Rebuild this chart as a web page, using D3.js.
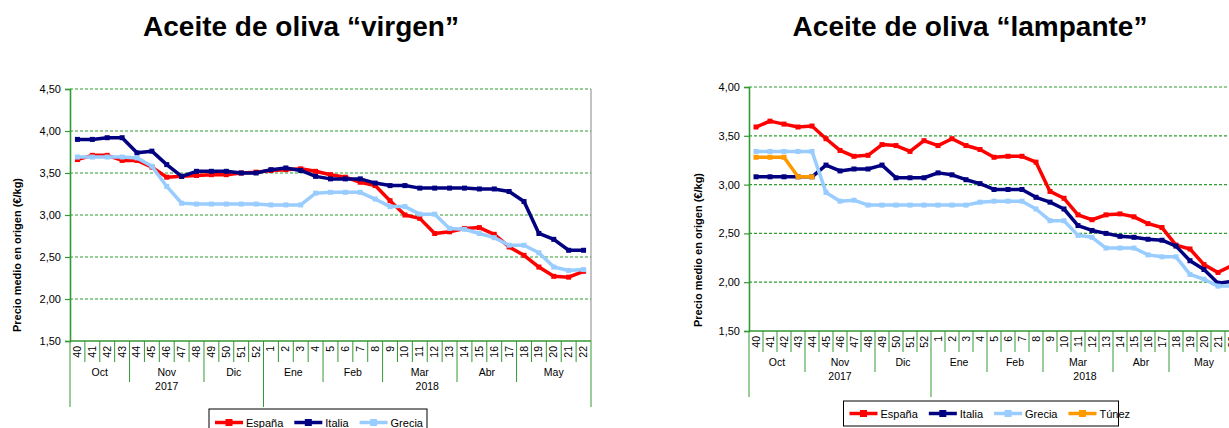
<!DOCTYPE html>
<html>
<head>
<meta charset="utf-8">
<script src="https://cdn.jsdelivr.net/npm/d3@7"></script>
<style>
  body { margin: 0; background: #fff; }
  text { font-family: "Liberation Sans", Arial, sans-serif; fill: #000; }
</style>
</head>
<body>
<svg id="chart" width="1229" height="428"></svg>
<script>
// semanas de campaña 2017/18
const weeks = ['40','41','42','43','44','45','46','47','48','49','50','51','52',
  '1','2','3','4','5','6','7','8','9','10','11','12','13','14','15','16','17','18','19','20','21','22'];
const monthNames = ['Oct','Nov','Dic','Ene','Feb','Mar','Abr','May'];
const monthLengths = [4, 5, 4, 4, 4, 5, 4, 5];
const yearNames = ['2017', '2018'];
const yearLengths = [13, 22];

// virgen
const virgenEspana = [3.66,3.71,3.71,3.65,3.65,3.57,3.45,3.46,3.47,3.48,3.48,3.50,3.51,
  3.53,3.54,3.55,3.52,3.48,3.45,3.39,3.35,3.17,3.00,2.96,2.78,2.80,2.84,2.85,2.77,2.62,2.52,2.38,2.27,2.26,2.33];
const virgenItalia = [3.90,3.90,3.92,3.92,3.74,3.76,3.60,3.46,3.52,3.52,3.52,3.50,3.50,
  3.54,3.56,3.53,3.46,3.43,3.43,3.43,3.38,3.35,3.35,3.32,3.32,3.32,3.32,3.31,3.31,3.28,3.16,2.78,2.71,2.58,2.58];
const virgenGrecia = [3.69,3.69,3.69,3.69,3.68,3.58,3.34,3.14,3.13,3.13,3.13,3.13,3.13,
  3.12,3.12,3.12,3.26,3.27,3.27,3.27,3.19,3.10,3.10,3.01,3.01,2.84,2.83,2.78,2.73,2.64,2.64,2.55,2.38,2.34,2.35];

// lampante
const lampanteEspana = [3.59,3.65,3.62,3.59,3.60,3.47,3.35,3.29,3.30,3.41,3.40,3.34,3.45,
  3.40,3.47,3.40,3.36,3.28,3.29,3.29,3.23,2.93,2.86,2.69,2.64,2.69,2.70,2.67,2.60,2.56,2.38,2.34,2.18,2.10,2.17];
const lampanteItalia = [3.08,3.08,3.08,3.08,3.08,3.20,3.14,3.16,3.16,3.20,3.07,3.07,3.07,
  3.12,3.10,3.05,3.01,2.95,2.95,2.95,2.87,2.82,2.75,2.58,2.53,2.50,2.47,2.46,2.44,2.43,2.37,2.22,2.13,1.99,2.01];
const lampanteGrecia = [3.34,3.34,3.34,3.34,3.34,2.92,2.83,2.84,2.79,2.79,2.79,2.79,2.79,
  2.79,2.79,2.79,2.82,2.83,2.83,2.83,2.75,2.63,2.63,2.48,2.46,2.35,2.35,2.35,2.28,2.26,2.26,2.08,2.03,1.96,1.96];
const lampanteTunez = [3.28,3.28,3.28,3.08,3.08, null,null,null,null,null,null,null,null,
  null,null,null,null,null,null,null,null,null,null,null,null,null,null,null,null,null,null,null,null,null,null];

const virgenTicks = [1.5, 2.0, 2.5, 3.0, 3.5, 4.0, 4.5];
const lampanteTicks = [1.5, 2.0, 2.5, 3.0, 3.5, 4.0];

const colors = { 'España': '#ff0000', 'Italia': '#000080', 'Grecia': '#99ccff', 'Túnez': '#ff9900' };
const axisGreen = '#339933';
const fmt = d => d3.format('.2f')(d).replace('.', ',');

const svg = d3.select('#chart');

const drawChart = (cfg) => {
  const g = svg.append('g');
  const x = d3.scaleBand().domain(weeks).range([cfg.x0, cfg.x1]);
  const y = d3.scaleLinear().domain([1.5, d3.max(cfg.ticks)]).range([cfg.yBottom, cfg.yTop]);
  const bw = x.bandwidth();

  // título
  g.append('text')
    .attr('x', cfg.titleX).attr('y', 36)
    .attr('text-anchor', 'middle')
    .style('font-size', '28px').style('font-weight', 'bold')
    .text(cfg.title);

  // rejilla
  g.selectAll('.grid').data(cfg.ticks.filter(t => t > 1.5)).enter()
    .append('line')
    .attr('x1', cfg.x0).attr('x2', cfg.x1)
    .attr('y1', d => y(d)).attr('y2', d => y(d))
    .attr('stroke', '#2e9e2e').attr('stroke-width', 1.2)
    .attr('stroke-dasharray', '3,2');

  // borde derecho
  g.append('line')
    .attr('x1', cfg.x1).attr('x2', cfg.x1)
    .attr('y1', cfg.yTop).attr('y2', cfg.yBottom)
    .attr('stroke', '#888').attr('stroke-width', 1);

  // eje y
  const yAxis = g.append('g')
    .attr('transform', `translate(${cfg.x0},0)`)
    .call(d3.axisLeft(y).tickValues(cfg.ticks).tickFormat(fmt).tickSize(5).tickPadding(4));
  yAxis.select('.domain').attr('stroke', axisGreen).attr('stroke-width', 1.6);
  yAxis.selectAll('.tick line').attr('stroke', axisGreen).attr('stroke-width', 1.2);
  yAxis.selectAll('.tick text').style('font-size', '11px').style('font-family', '"Liberation Sans", Arial, sans-serif').attr('fill', '#222');

  g.append('text')
    .attr('transform', `translate(${cfg.labelX},${cfg.labelY}) rotate(-90)`)
    .attr('text-anchor', 'middle')
    .style('font-size', '11px').style('font-weight', 'bold')
    .text('Precio medio en origen (€/kg)');

  // eje x multinivel
  const xb = cfg.yBottom;
  g.append('line')
    .attr('x1', cfg.x0).attr('x2', cfg.x1).attr('y1', xb).attr('y2', xb)
    .attr('stroke', axisGreen).attr('stroke-width', 1.6);

  const monthEdges = d3.cumsum(monthLengths);
  const yearEdges = d3.cumsum(yearLengths);
  const edges = d3.range(weeks.length + 1);
  g.selectAll('.sep').data(edges).enter()
    .append('line')
    .attr('x1', i => cfg.x0 + i * bw).attr('x2', i => cfg.x0 + i * bw)
    .attr('y1', xb)
    .attr('y2', i => (i === 0 || yearEdges.includes(i)) ? xb + 66 : monthEdges.includes(i) ? xb + 41 : xb + 21)
    .attr('stroke', axisGreen).attr('stroke-width', 1);

  g.selectAll('.wk').data(weeks).enter()
    .append('text')
    .attr('transform', d => `translate(${x(d) + bw / 2 + 3.5},${xb + 5}) rotate(-90)`)
    .attr('text-anchor', 'end')
    .style('font-size', '10.5px')
    .text(d => d);

  const monthStarts = [0, ...monthEdges.slice(0, -1)];
  g.selectAll('.mo').data(monthNames).enter()
    .append('text')
    .attr('x', (d, i) => cfg.x0 + (monthStarts[i] + monthLengths[i] / 2) * bw)
    .attr('y', xb + 35)
    .attr('text-anchor', 'middle')
    .style('font-size', '10.5px')
    .text(d => d);

  const yearStarts = [0, ...yearEdges.slice(0, -1)];
  g.selectAll('.yr').data(yearNames).enter()
    .append('text')
    .attr('x', (d, i) => cfg.x0 + (yearStarts[i] + yearLengths[i] / 2) * bw)
    .attr('y', xb + 49)
    .attr('text-anchor', 'middle')
    .style('font-size', '10.5px')
    .text(d => d);

  // series
  const line = d3.line()
    .defined(d => d != null)
    .x((d, i) => x(weeks[i]) + bw / 2)
    .y(d => y(d));

  cfg.series.forEach(s => {
    g.append('path')
      .attr('d', line(s.values))
      .attr('fill', 'none')
      .attr('stroke', colors[s.name])
      .attr('stroke-width', 3.5)
      .attr('stroke-linejoin', 'round');
    g.selectAll(null).data(s.values.map((v, i) => [v, i]).filter(p => p[0] != null)).enter()
      .append('rect')
      .attr('x', p => x(weeks[p[1]]) + bw / 2 - 2.5)
      .attr('y', p => y(p[0]) - 2.5)
      .attr('width', 5).attr('height', 5)
      .attr('fill', colors[s.name]);
  });

  // leyenda
  const lg = g.append('g');
  lg.append('rect')
    .attr('x', cfg.legend.x).attr('y', cfg.legend.y)
    .attr('width', cfg.legend.w).attr('height', cfg.legend.h)
    .attr('fill', '#fff').attr('stroke', '#000').attr('stroke-width', 1);
  let lx = cfg.legend.x + 6;
  const ly = cfg.legend.y + cfg.legend.h / 2;
  cfg.series.forEach(s => {
    lg.append('line')
      .attr('x1', lx).attr('x2', lx + 28).attr('y1', ly).attr('y2', ly)
      .attr('stroke', colors[s.name]).attr('stroke-width', 3.5);
    lg.append('rect')
      .attr('x', lx + 10.5).attr('y', ly - 3.5).attr('width', 7).attr('height', 7)
      .attr('fill', colors[s.name]);
    const t = lg.append('text')
      .attr('x', lx + 31).attr('y', ly + 4)
      .style('font-size', '11px')
      .text(s.name);
    lx += 31 + t.node().getComputedTextLength() + 11;
  });
};

drawChart({
  title: 'Aceite de oliva “virgen”', titleX: 301,
  x0: 70, x1: 591, yTop: 89, yBottom: 341, ticks: virgenTicks,
  labelX: 20.5, labelY: 255,
  legend: { x: 209, y: 409, w: 218, h: 27 },
  series: [
    { name: 'España', values: virgenEspana },
    { name: 'Italia', values: virgenItalia },
    { name: 'Grecia', values: virgenGrecia }
  ]
});

drawChart({
  title: 'Aceite de oliva “lampante”', titleX: 970,
  x0: 749, x1: 1239, yTop: 87, yBottom: 331, ticks: lampanteTicks,
  labelX: 702, labelY: 250,
  legend: { x: 843.5, y: 401, w: 275, h: 25 },
  series: [
    { name: 'España', values: lampanteEspana },
    { name: 'Italia', values: lampanteItalia },
    { name: 'Grecia', values: lampanteGrecia },
    { name: 'Túnez', values: lampanteTunez }
  ]
});
</script>
</body>
</html>
